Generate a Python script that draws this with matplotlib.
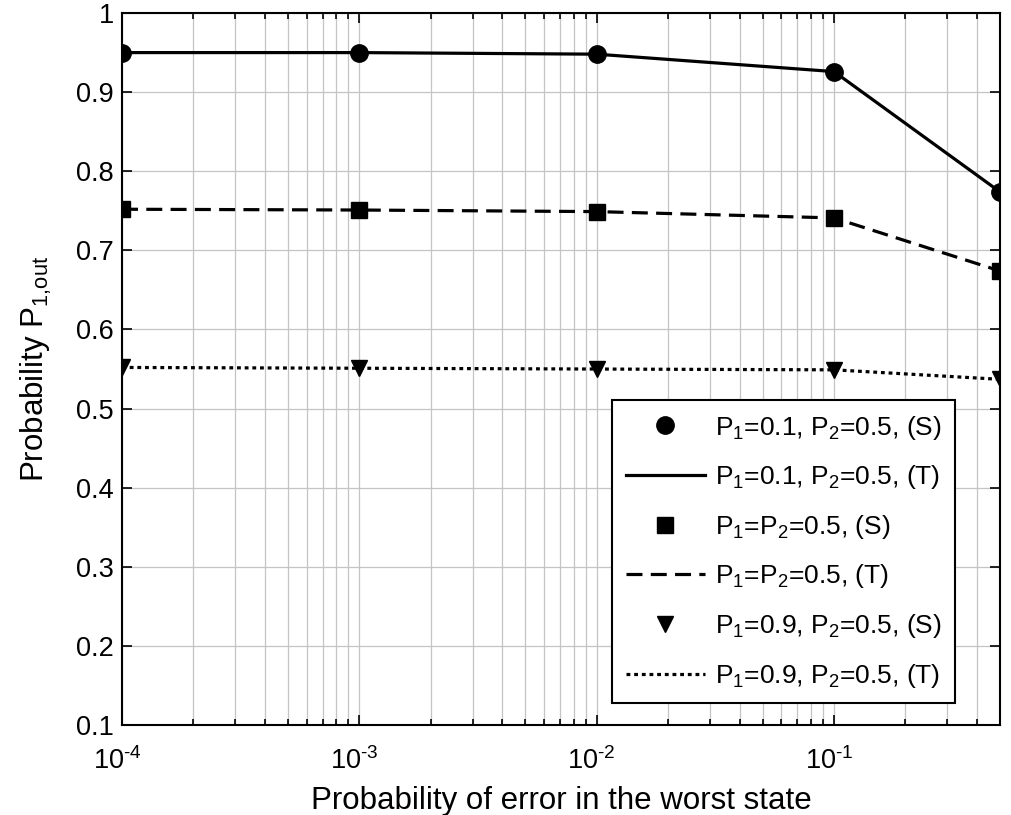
import matplotlib
matplotlib.use("Agg")

import matplotlib.pyplot as plt
import matplotlib.transforms as mtransforms
from matplotlib.ticker import LogLocator, FixedLocator, NullFormatter

plt.rcParams["font.family"] = ["Liberation Sans", "DejaVu Sans"]
plt.rcParams["mathtext.fontset"] = "custom"
plt.rcParams["mathtext.rm"] = "Liberation Sans"
plt.rcParams["mathtext.default"] = "regular"

# error probability in the worst state
p_err = [1e-4, 1e-3, 1e-2, 1e-1, 0.5]
x_ticks = [1e-4, 1e-3, 1e-2, 1e-1]
x_ticklabels = [r"10$^{\text{-4}}$", r"10$^{\text{-3}}$",
                r"10$^{\text{-2}}$", r"10$^{\text{-1}}$"]
y_ticks = [0.1, 0.2, 0.3, 0.4, 0.5, 0.6, 0.7, 0.8, 0.9, 1.0]
y_ticklabels = ["0.1", "0.2", "0.3", "0.4", "0.5", "0.6", "0.7", "0.8", "0.9", "1"]

# P1,out for each configuration: simulation (S) and theory (T)
p01_sim = [0.950, 0.950, 0.948, 0.926, 0.774]
p01_th = [0.950, 0.950, 0.948, 0.926, 0.774]
p05_sim = [0.752, 0.751, 0.749, 0.741, 0.674]
p05_th = [0.752, 0.751, 0.749, 0.741, 0.674]
p09_sim = [0.552, 0.551, 0.550, 0.549, 0.537]
p09_th = [0.552, 0.551, 0.550, 0.549, 0.537]

labels = [
    r"P$_1$=0.1, P$_2$=0.5, (S)",
    r"P$_1$=0.1, P$_2$=0.5, (T)",
    r"P$_1$=P$_2$=0.5, (S)",
    r"P$_1$=P$_2$=0.5, (T)",
    r"P$_1$=0.9, P$_2$=0.5, (S)",
    r"P$_1$=0.9, P$_2$=0.5, (T)",
]

fig = plt.figure(figsize=(10.11, 8.15), dpi=100)
ax = fig.add_axes([0.1207, 0.1104, 0.8683, 0.8736])

ax.plot(p_err, p01_sim, "o", color="k", ms=12.5, label=labels[0])
ax.plot(p_err, p01_th, "-", color="k", lw=2.3, label=labels[1])
ax.plot(p_err, p05_sim, "s", color="k", ms=11, label=labels[2])
ax.plot(p_err, p05_th, "--", color="k", lw=2.3, dashes=(5, 2.6), label=labels[3])
ax.plot(p_err, p09_sim, "v", color="k", ms=11.5, label=labels[4])
ax.plot(p_err, p09_th, ":", color="k", lw=2.3, dashes=(1.2, 1.2), label=labels[5])

ax.set_xscale("log")
ax.set_xlim(1e-4, 0.5)
ax.set_ylim(0.1, 1.0)
ax.xaxis.set_major_locator(FixedLocator(x_ticks))
ax.xaxis.set_minor_locator(LogLocator(base=10, subs=range(2, 10), numticks=20))
ax.xaxis.set_minor_formatter(NullFormatter())
ax.set_xticklabels(x_ticklabels)
ax.set_yticks(y_ticks)
ax.set_yticklabels(y_ticklabels)

ax.tick_params(which="both", direction="in", top=True, right=True,
               labelsize=19.5, width=1.2)
ax.tick_params(which="major", length=7)
ax.tick_params(which="minor", length=4)
ax.tick_params(axis="x", which="major", pad=16)
ax.tick_params(axis="y", which="major", pad=6)

# MATLAB puts the "10" left of the tick, exponent to the right
shift = mtransforms.ScaledTranslation(-5 / 100, 0, fig.dpi_scale_trans)
for lbl in ax.get_xticklabels():
    lbl.set_transform(lbl.get_transform() + shift)

ax.grid(True, which="both", color="#c4c4c4", lw=0.9, ls="-")
for s in ax.spines.values():
    s.set_linewidth(1.5)

ax.set_xlabel("Probability of error in the worst state", fontsize=22.5, labelpad=8)
ax.set_ylabel(r"Probability P$_{\text{1,out}}$", fontsize=22.5, labelpad=16)

leg = ax.legend(loc="lower right", bbox_to_anchor=(0.949, 0.031), fontsize=19,
                frameon=True, fancybox=False, framealpha=1, edgecolor="k",
                handlelength=3.0, handletextpad=0.4, labelspacing=0.82,
                borderpad=0.5, borderaxespad=0)
leg.get_frame().set_linewidth(1.5)

fig.savefig("out.png", dpi=100)
